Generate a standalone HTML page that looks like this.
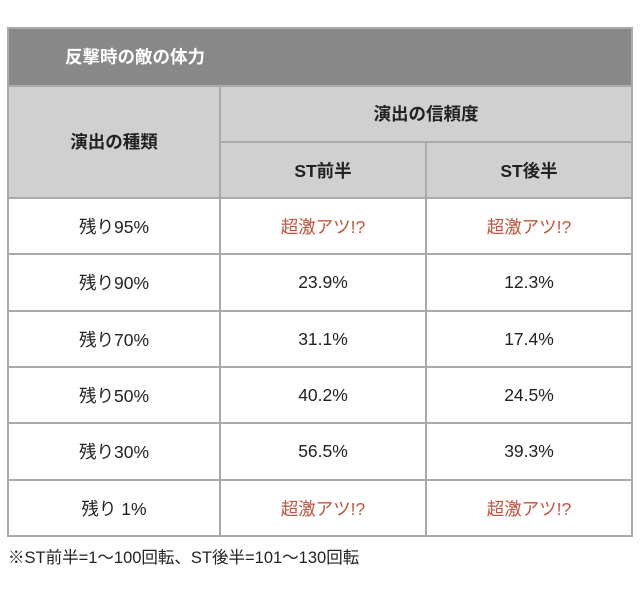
<!DOCTYPE html>
<html><head><meta charset="utf-8"><style>
body{margin:0;width:640px;height:591px;background:#fff;position:relative;font-family:"Liberation Sans","Noto Sans CJK JP",sans-serif;overflow:hidden}
.c{position:absolute;box-sizing:border-box;display:flex;align-items:center;justify-content:center;font-size:17.5px;color:#222}
.g{background:#d0d0d0;font-weight:bold}
.r{color:#c0553e}
.l{position:absolute;background:#aaa}
</style></head><body>
<div class="c" style="left:8px;top:28px;width:624px;height:57px;background:#888;color:#fff;font-weight:bold;justify-content:flex-start;padding-left:57px">反撃時の敵の体力</div>
<div class="c g" style="left:8px;top:85px;width:212px;height:113px">演出の種類</div>
<div class="c g" style="left:220px;top:85px;width:412px;height:57px">演出の信頼度</div>
<div class="c g" style="left:220px;top:142px;width:206px;height:56px">ST前半</div>
<div class="c g" style="left:426px;top:142px;width:206px;height:56px">ST後半</div>

<div class="c" style="left:8px;top:198px;width:212px;height:56px">残り95%</div>
<div class="c r" style="left:220px;top:198px;width:206px;height:56px">超激アツ!?</div>
<div class="c r" style="left:426px;top:198px;width:206px;height:56px">超激アツ!?</div>

<div class="c" style="left:8px;top:254px;width:212px;height:57px">残り90%</div>
<div class="c" style="left:220px;top:254px;width:206px;height:57px">23.9%</div>
<div class="c" style="left:426px;top:254px;width:206px;height:57px">12.3%</div>

<div class="c" style="left:8px;top:311px;width:212px;height:56px">残り70%</div>
<div class="c" style="left:220px;top:311px;width:206px;height:56px">31.1%</div>
<div class="c" style="left:426px;top:311px;width:206px;height:56px">17.4%</div>

<div class="c" style="left:8px;top:367px;width:212px;height:56px">残り50%</div>
<div class="c" style="left:220px;top:367px;width:206px;height:56px">40.2%</div>
<div class="c" style="left:426px;top:367px;width:206px;height:56px">24.5%</div>

<div class="c" style="left:8px;top:423px;width:212px;height:57px">残り30%</div>
<div class="c" style="left:220px;top:423px;width:206px;height:57px">56.5%</div>
<div class="c" style="left:426px;top:423px;width:206px;height:57px">39.3%</div>

<div class="c" style="left:8px;top:480px;width:212px;height:56px">残り 1%</div>
<div class="c r" style="left:220px;top:480px;width:206px;height:56px">超激アツ!?</div>
<div class="c r" style="left:426px;top:480px;width:206px;height:56px">超激アツ!?</div>

<div class="l" style="left:7px;top:27px;width:626px;height:2px"></div>
<div class="l" style="left:7px;top:27px;width:2px;height:510px"></div>
<div class="l" style="left:631px;top:27px;width:2px;height:510px"></div>
<div class="l" style="left:7px;top:535px;width:626px;height:2px"></div>
<div class="l" style="left:7px;top:85px;width:626px;height:2px"></div>
<div class="l" style="left:219px;top:85px;width:2px;height:451px"></div>
<div class="l" style="left:425px;top:142px;width:2px;height:394px"></div>
<div class="l" style="left:219px;top:141px;width:414px;height:2px"></div>
<div class="l" style="left:7px;top:197px;width:626px;height:2px"></div>
<div class="l" style="left:7px;top:253px;width:626px;height:2px"></div>
<div class="l" style="left:7px;top:310px;width:626px;height:2px"></div>
<div class="l" style="left:7px;top:366px;width:626px;height:2px"></div>
<div class="l" style="left:7px;top:422px;width:626px;height:2px"></div>
<div class="l" style="left:7px;top:479px;width:626px;height:2px"></div>

<div style="position:absolute;left:8px;top:544px;font-size:16.5px;color:#222">※ST前半=1〜100回転、ST後半=101〜130回転</div>
</body></html>
